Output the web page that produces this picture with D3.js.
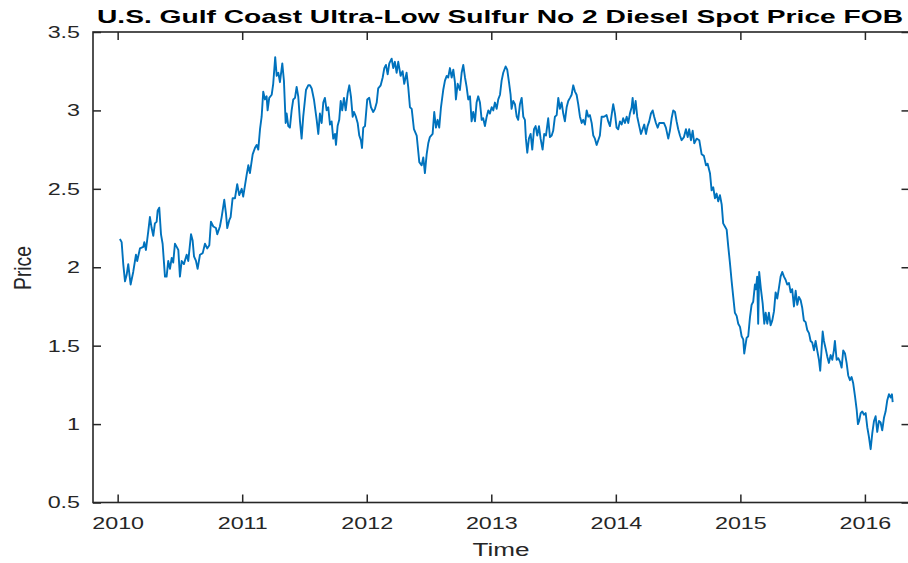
<!DOCTYPE html>
<html>
<head>
<meta charset="utf-8">
<script src="https://cdn.jsdelivr.net/npm/d3@7"></script>
<style>
  body { margin: 0; background: #fff; }
  svg { display: block; font-family: "Liberation Sans", Arial, sans-serif; }
</style>
</head>
<body>
<svg id="chart" width="908" height="563"></svg>
<script>
var years = [
  2010.018, 2010.032, 2010.045, 2010.059, 2010.072, 2010.085, 2010.104, 2010.125, 2010.147, 2010.157,
  2010.179, 2010.206, 2010.214, 2010.227, 2010.246, 2010.259, 2010.273, 2010.286, 2010.299, 2010.313,
  2010.321, 2010.334, 2010.348, 2010.361, 2010.380, 2010.393, 2010.406, 2010.420, 2010.434, 2010.446,
  2010.460, 2010.474, 2010.487, 2010.500, 2010.514, 2010.532, 2010.554, 2010.567, 2010.589, 2010.602,
  2010.613, 2010.629, 2010.642, 2010.661, 2010.683, 2010.701, 2010.719, 2010.736, 2010.749, 2010.768,
  2010.789, 2010.800, 2010.821, 2010.835, 2010.856, 2010.870, 2010.880, 2010.896, 2010.907, 2010.923,
  2010.942, 2010.960, 2010.976, 2010.996, 2011.008, 2011.036, 2011.049, 2011.062,
  2011.084, 2011.102, 2011.116, 2011.129, 2011.143, 2011.156, 2011.169, 2011.183, 2011.196, 2011.204,
  2011.217, 2011.237, 2011.249, 2011.265, 2011.277, 2011.290, 2011.303, 2011.322, 2011.335, 2011.349,
  2011.357, 2011.370, 2011.383, 2011.397, 2011.410, 2011.424, 2011.437, 2011.450, 2011.464, 2011.477,
  2011.490, 2011.512, 2011.530, 2011.544, 2011.558, 2011.576, 2011.598, 2011.611, 2011.624, 2011.638,
  2011.651, 2011.664, 2011.678, 2011.691, 2011.705, 2011.718, 2011.731, 2011.745, 2011.753, 2011.766,
  2011.779, 2011.791, 2011.803, 2011.817, 2011.831, 2011.847, 2011.860, 2011.873, 2011.887, 2011.897,
  2011.913, 2011.927, 2011.940, 2011.953, 2011.962, 2011.972, 2011.986, 2012.004, 2012.020, 2012.034,
  2012.052, 2012.066, 2012.080, 2012.092, 2012.112, 2012.128, 2012.141, 2012.154, 2012.168, 2012.181,
  2012.200, 2012.213, 2012.226, 2012.240, 2012.253, 2012.272, 2012.288, 2012.301, 2012.320, 2012.333,
  2012.347, 2012.361, 2012.379, 2012.401, 2012.422,
  2012.441, 2012.454, 2012.467, 2012.481, 2012.494, 2012.507, 2012.529, 2012.542, 2012.556, 2012.569,
  2012.582, 2012.596, 2012.614, 2012.628, 2012.642, 2012.654, 2012.668, 2012.682, 2012.695, 2012.708,
  2012.716, 2012.730, 2012.748, 2012.762, 2012.775, 2012.789, 2012.802, 2012.815, 2012.829, 2012.842,
  2012.855, 2012.869, 2012.882, 2012.895, 2012.909, 2012.923, 2012.935, 2012.949, 2012.963, 2012.976,
  2012.989, 2013.003, 2013.016, 2013.029, 2013.043, 2013.056, 2013.070, 2013.083, 2013.096, 2013.115,
  2013.128, 2013.142, 2013.155, 2013.163, 2013.176, 2013.190, 2013.204, 2013.216, 2013.230, 2013.244,
  2013.257, 2013.270, 2013.278, 2013.289, 2013.302, 2013.316, 2013.329, 2013.343, 2013.356, 2013.369,
  2013.383, 2013.396, 2013.412, 2013.425, 2013.439, 2013.457, 2013.471, 2013.485, 2013.497, 2013.511,
  2013.525, 2013.538, 2013.551, 2013.565, 2013.578, 2013.591, 2013.605, 2013.618, 2013.632, 2013.645,
  2013.658, 2013.672, 2013.685, 2013.698, 2013.712, 2013.726, 2013.738, 2013.752, 2013.766, 2013.779,
  2013.792, 2013.806, 2013.819, 2013.832, 2013.846, 2013.859,
  2013.872, 2013.886, 2013.905, 2013.926, 2013.939, 2013.953, 2013.966, 2013.979, 2013.993, 2014.006,
  2014.019, 2014.033, 2014.047, 2014.059, 2014.073, 2014.087, 2014.100, 2014.113, 2014.127, 2014.135,
  2014.145, 2014.159, 2014.172, 2014.188, 2014.202, 2014.215, 2014.228, 2014.242, 2014.255, 2014.268,
  2014.282, 2014.296, 2014.308, 2014.322, 2014.336, 2014.349, 2014.368, 2014.386, 2014.402, 2014.421,
  2014.434, 2014.448, 2014.461, 2014.475, 2014.488, 2014.501, 2014.515, 2014.528, 2014.547, 2014.563,
  2014.577, 2014.589, 2014.603, 2014.617, 2014.630, 2014.649, 2014.670, 2014.689, 2014.707, 2014.724,
  2014.737, 2014.756, 2014.769, 2014.782, 2014.796, 2014.809, 2014.822, 2014.836, 2014.850, 2014.862,
  2014.876, 2014.890, 2014.903, 2014.916, 2014.930, 2014.943, 2014.956, 2014.970, 2014.983, 2014.997,
  2015.010, 2015.023, 2015.031, 2015.050, 2015.063, 2015.077,
  2015.090, 2015.103, 2015.117, 2015.125, 2015.135, 2015.143, 2015.151, 2015.165, 2015.179, 2015.192,
  2015.203, 2015.216, 2015.229, 2015.243, 2015.256, 2015.270, 2015.283, 2015.296, 2015.310, 2015.323,
  2015.336, 2015.350, 2015.363, 2015.376, 2015.390, 2015.404, 2015.416, 2015.430, 2015.444, 2015.457,
  2015.470, 2015.484, 2015.497, 2015.510, 2015.524, 2015.537, 2015.551, 2015.564, 2015.577, 2015.591,
  2015.604, 2015.617, 2015.631, 2015.641, 2015.653, 2015.661, 2015.671, 2015.685, 2015.698, 2015.711,
  2015.725, 2015.738, 2015.751, 2015.759, 2015.773, 2015.786, 2015.799, 2015.813, 2015.826, 2015.840,
  2015.853, 2015.866, 2015.880, 2015.893, 2015.906, 2015.920, 2015.934, 2015.944, 2015.954, 2015.966,
  2015.979, 2015.992, 2016.006, 2016.019, 2016.032, 2016.046, 2016.059, 2016.073, 2016.086, 2016.099,
  2016.113, 2016.126, 2016.139, 2016.153, 2016.166, 2016.179, 2016.193, 2016.207, 2016.217, 2016.223
];

// spot price, dollars per gallon
var prices = [
  2.18, 2.16, 2.02, 1.91, 1.95, 2.02, 1.89, 1.97, 2.08, 2.04,
  2.12, 2.13, 2.16, 2.11, 2.23, 2.32, 2.25, 2.20, 2.28, 2.29,
  2.36, 2.38, 2.21, 2.15, 1.94, 1.94, 2.04, 1.99, 2.06, 2.03,
  2.15, 2.13, 2.11, 1.94, 2.04, 2.02, 2.08, 2.04, 2.21, 2.17,
  2.07, 2.04, 1.99, 2.08, 2.09, 2.15, 2.12, 2.14, 2.29, 2.26,
  2.25, 2.21, 2.26, 2.32, 2.43, 2.34, 2.25, 2.30, 2.32, 2.44,
  2.44, 2.53, 2.46, 2.50, 2.45, 2.59, 2.65, 2.60,
  2.72, 2.76, 2.78, 2.75, 2.88, 2.96, 3.12, 3.07, 3.09, 3.00,
  3.08, 3.10, 3.17, 3.34, 3.22, 3.24, 3.18, 3.30, 3.19, 2.92,
  2.98, 2.90, 2.89, 3.00, 3.07, 3.08, 3.15, 3.09, 2.93, 2.82,
  2.96, 3.13, 3.16, 3.16, 3.14, 3.07, 2.94, 2.85, 2.98, 2.92,
  3.05, 3.08, 3.00, 3.02, 2.91, 2.93, 2.82, 2.85, 2.78, 2.90,
  2.94, 3.06, 3.00, 3.08, 3.00, 3.11, 3.16, 3.09, 2.96, 2.99,
  2.96, 2.92, 2.84, 2.81, 2.76, 2.89, 2.90, 3.07, 3.08, 3.02,
  2.99, 3.01, 3.05, 3.14, 3.16, 3.21, 3.27, 3.29, 3.23, 3.30,
  3.33, 3.27, 3.31, 3.24, 3.31, 3.22, 3.25, 3.17, 3.24, 3.15,
  3.02, 3.01, 2.88, 2.84, 2.67,
  2.65, 2.70, 2.60, 2.72, 2.79, 2.83, 2.85, 2.99, 2.89, 2.94,
  2.89, 3.02, 3.13, 3.19, 3.22, 3.21, 3.27, 3.21, 3.26, 3.18,
  3.07, 3.17, 3.13, 3.24, 3.29, 3.21, 3.15, 3.07, 3.09, 2.93,
  2.99, 2.93, 3.05, 3.09, 3.05, 2.94, 2.95, 2.90, 2.96, 3.00,
  2.98, 3.02, 3.00, 3.05, 3.01, 3.07, 3.10, 3.19, 3.24, 3.28,
  3.26, 3.18, 3.10, 3.01, 3.06, 3.04, 2.96, 2.94, 3.04, 3.08,
  2.96, 2.94, 2.82, 2.73, 2.82, 2.85, 2.75, 2.88, 2.90, 2.84,
  2.90, 2.82, 2.75, 2.85, 2.84, 2.95, 2.83, 2.84, 2.87, 2.96,
  2.97, 3.08, 3.01, 3.05, 2.98, 2.93, 3.02, 3.06, 3.08, 3.10,
  3.16, 3.12, 3.10, 3.04, 2.96, 2.92, 2.94, 2.91, 3.00, 2.96,
  2.97, 2.92, 2.84, 2.82, 2.78, 2.81,
  2.84, 2.96, 2.96, 2.97, 2.93, 2.90, 2.97, 3.04, 2.98, 2.89,
  2.88, 2.93, 2.91, 2.95, 2.92, 2.96, 2.92, 2.98, 3.02, 3.08,
  2.98, 3.06, 2.96, 2.90, 2.85, 2.88, 2.91, 2.85, 2.90, 2.93,
  2.98, 3.00, 2.96, 2.92, 2.89, 2.92, 2.92, 2.92, 2.89, 2.82,
  2.87, 2.95, 3.00, 2.99, 2.93, 2.88, 2.84, 2.81, 2.83, 2.88,
  2.83, 2.88, 2.81, 2.87, 2.79, 2.82, 2.81, 2.72, 2.71, 2.65,
  2.66, 2.60, 2.49, 2.51, 2.44, 2.47, 2.42, 2.46, 2.40, 2.28,
  2.26, 2.24, 2.13, 2.03, 1.91, 1.81, 1.71, 1.69, 1.64, 1.62,
  1.56, 1.54, 1.45, 1.55, 1.56, 1.68,
  1.76, 1.78, 1.89, 1.86, 1.94, 1.64, 1.97, 1.86, 1.77, 1.64,
  1.71, 1.64, 1.71, 1.63, 1.66, 1.72, 1.84, 1.80, 1.87, 1.94,
  1.97, 1.94, 1.92, 1.89, 1.90, 1.84, 1.86, 1.75, 1.85, 1.76,
  1.81, 1.79, 1.74, 1.66, 1.65, 1.60, 1.58, 1.53, 1.52, 1.47,
  1.53, 1.47, 1.41, 1.34, 1.49, 1.59, 1.53, 1.48, 1.43, 1.39,
  1.44, 1.41, 1.47, 1.53, 1.41, 1.42, 1.40, 1.36, 1.47, 1.45,
  1.39, 1.31, 1.28, 1.30, 1.26, 1.18, 1.09, 1.00, 1.02, 1.07,
  1.08, 1.06, 1.07, 0.98, 0.92, 0.84, 0.94, 1.02, 1.05, 0.95,
  1.02, 1.01, 0.96, 1.04, 1.08, 1.15, 1.19, 1.17, 1.19, 1.14
];

var xTicks = [2010, 2011, 2012, 2013, 2014, 2015, 2016];
var yTicks = [0.5, 1, 1.5, 2, 2.5, 3, 3.5];

var titleText = "U.S. Gulf Coast Ultra-Low Sulfur No 2 Diesel Spot Price FOB";
var xLabel = "Time";
var yLabel = "Price";

var svg = d3.select("#chart");
var plotLeft = 93, plotRight = 909.5, plotTop = 32, plotBottom = 502.5;
var axisColor = "#262626";

var x = d3.scaleLinear().domain([2009.802, 2016.358]).range([plotLeft, plotRight]);
var y = d3.scaleLinear().domain([0.5, 3.5]).range([plotBottom, plotTop]);

var points = years.map(function(t, i) { return [t, prices[i]]; });

var line = d3.line()
  .x(function(d) { return x(d[0]); })
  .y(function(d) { return y(d[1]); });

svg.append("path")
  .datum(points)
  .attr("fill", "none")
  .attr("stroke", "#0072BD")
  .attr("stroke-width", 1.9)
  .attr("stroke-linejoin", "round")
  .attr("d", line);

function styleAxis(g) {
  g.select(".domain").remove();
  g.selectAll(".tick line").attr("stroke", axisColor).attr("stroke-width", 1.5);
  g.selectAll(".tick text")
    .attr("fill", axisColor)
    .style("font-size", "17px");
}

var gx = svg.append("g")
  .attr("transform", "translate(0," + plotBottom + ")")
  .call(d3.axisBottom(x).tickValues(xTicks).tickFormat(d3.format("d"))
    .tickSizeInner(-8).tickSizeOuter(0).tickPadding(14))
  .call(styleAxis);

svg.append("g")
  .attr("transform", "translate(0," + plotTop + ")")
  .call(d3.axisTop(x).tickValues(xTicks).tickFormat("")
    .tickSizeInner(-8).tickSizeOuter(0))
  .call(styleAxis);

var gy = svg.append("g")
  .attr("transform", "translate(" + plotLeft + ",0)")
  .call(d3.axisLeft(y).tickValues(yTicks).tickFormat(d3.format("~g"))
    .tickSizeInner(-8).tickSizeOuter(0).tickPadding(13))
  .call(styleAxis);

svg.append("g")
  .attr("transform", "translate(" + plotRight + ",0)")
  .call(d3.axisRight(y).tickValues(yTicks).tickFormat("")
    .tickSizeInner(-8).tickSizeOuter(0))
  .call(styleAxis);

// the reference text is drawn wide, so stretch the glyphs
function widen(sel, k) {
  sel.each(function() {
    var w = this.getComputedTextLength();
    d3.select(this).attr("textLength", w * k).attr("lengthAdjust", "spacingAndGlyphs");
  });
}
widen(gx.selectAll(".tick text"), 1.37);
widen(gy.selectAll(".tick text"), 1.37);

svg.append("rect")
  .attr("x", plotLeft).attr("y", plotTop)
  .attr("width", plotRight - plotLeft).attr("height", plotBottom - plotTop)
  .attr("fill", "none")
  .attr("stroke", axisColor)
  .attr("stroke-width", 1.6);

svg.append("text")
  .attr("x", 500).attr("y", 22.5)
  .attr("text-anchor", "middle")
  .attr("font-weight", "bold")
  .attr("font-size", 18.5)
  .attr("fill", "#000")
  .attr("textLength", 806)
  .attr("lengthAdjust", "spacingAndGlyphs")
  .text(titleText);

svg.append("text")
  .attr("x", 501).attr("y", 556)
  .attr("text-anchor", "middle")
  .attr("font-size", 18)
  .attr("fill", axisColor)
  .attr("textLength", 57)
  .attr("lengthAdjust", "spacingAndGlyphs")
  .text(xLabel);

svg.append("text")
  .attr("transform", "translate(31,268) rotate(-90) scale(1,1.35)")
  .attr("text-anchor", "middle")
  .attr("font-size", 18)
  .attr("fill", axisColor)
  .attr("textLength", 44)
  .attr("lengthAdjust", "spacingAndGlyphs")
  .text(yLabel);
</script>
</body>
</html>
